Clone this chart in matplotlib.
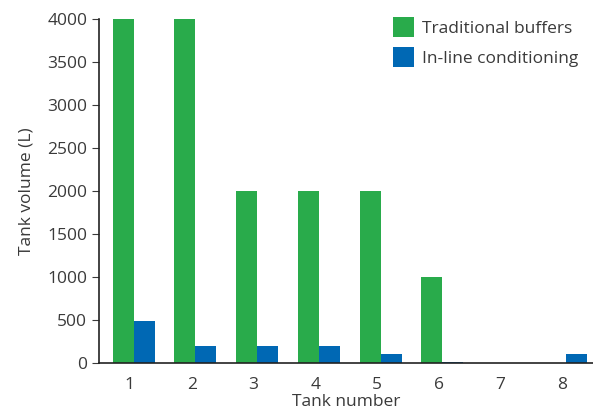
import matplotlib
matplotlib.use('Agg')
import matplotlib.pyplot as plt
import numpy as np

# Datos del grafico
tanques = [1, 2, 3, 4, 5, 6, 7, 8]
tradicional = [4000, 4000, 2000, 2000, 2000, 1000, 0, 0]
en_linea = [490, 200, 200, 200, 100, 10, 0, 100]
etiquetas_y = [0, 500, 1000, 1500, 2000, 2500, 3000, 3500, 4000]

plt.rcParams['font.family'] = ['Open Sans', 'DejaVu Sans']
gris = '#3a3a3a'

fig = plt.figure(figsize=(5.93, 4.12), dpi=100)
ax = fig.add_axes([0.167, 0.119, 0.833, 0.835])

x = np.array(tanques) + 0.06  # las barras estan un poco corridas respecto a la etiqueta
ancho = 0.34
ax.bar(x, tradicional, width=-ancho, align='edge', color='#29ab4b', label='Traditional buffers')
ax.bar(x, en_linea, width=ancho, align='edge', color='#0068b4', label='In-line conditioning')

ax.set_xlim(0.5, 8.5)
ax.set_ylim(0, 4000)
ax.set_xticks(tanques)
ax.set_yticks(etiquetas_y)
ax.tick_params(axis='x', length=0, pad=10, labelsize=12.5, colors=gris)
ax.tick_params(axis='y', length=5, direction='out', labelsize=12.5, colors=gris)

for lado in ['top', 'right']:
    ax.spines[lado].set_visible(False)
for lado in ['left', 'bottom']:
    ax.spines[lado].set_color('#222222')
    ax.spines[lado].set_linewidth(1.2)

ax.set_xlabel('Tank number', fontsize=12.5, color=gris, labelpad=1)
ax.set_ylabel('Tank volume (L)', fontsize=12.5, color=gris, labelpad=9)

ax.legend(loc='upper right', frameon=False, fontsize=12.5, handlelength=1.2,
          handleheight=1.4, handletextpad=0.5, labelspacing=0.55,
          labelcolor=gris, borderaxespad=0.0, bbox_to_anchor=(0.985, 1.025))

fig.savefig('out.png', dpi=100)
